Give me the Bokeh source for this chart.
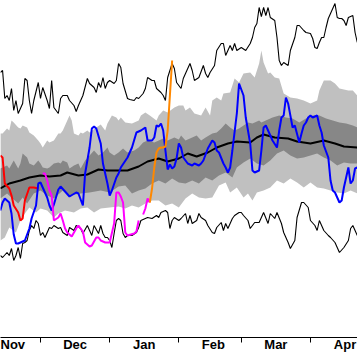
from bokeh.plotting import figure
from bokeh.models import Range1d, FixedTicker
from bokeh.embed import file_html
from bokeh.resources import INLINE

nan = float("nan")

# x = day of season, counted from 1 November (0 = Nov 1)
month_starts = [0, 30, 61, 92, 120, 151]
month_names = ["Nov", "Dec", "Jan", "Feb", "Mar", "Apr"]
label_pos = [m + 15.5 for m in month_starts]

# record maximum (thin black)
max_days = [12, 13, 14, 15, 16, 17, 18, 19, 20, 22, 23, 24, 25, 26, 27, 29, 30, 31, 33, 34,
            35, 36, 38, 39, 40, 42, 43, 45, 46, 47, 49, 51, 52, 54, 55, 56, 57, 58, 59, 60,
            61, 63, 64, 65, 66, 67, 69, 70, 72, 73, 74, 76, 77, 78, 80, 81, 82, 84, 85, 86,
            87, 89, 90, 91, 93, 94, 97, 98, 99, 101, 103, 104, 105, 106, 108, 109, 111, 112, 113, 115,
            116, 117, 118, 120, 122, 124, 125, 126, 127, 128, 129, 130, 131, 132, 133, 135, 136, 137, 138, 139,
            141, 142, 144, 145, 146, 148, 149, 151, 152, 153, 154, 155, 156, 157, 158, 159, 160, 162, 163, 164,
            165, 166, 167, 168, 170, 171, 172]
max_vals = [264, 266, 238, 241, 236, 248, 226, 236, 223, 233, 258, 256, 236, 223, 236, 254, 238, 249, 236, 228,
            256, 229, 223, 238, 241, 241, 236, 231, 225, 231, 241, 258, 253, 249, 244, 254, 249, 259, 248, 254,
            256, 253, 256, 273, 269, 253, 238, 237, 236, 239, 238, 243, 248, 259, 256, 256, 248, 244, 241, 236,
            259, 273, 268, 254, 248, 258, 273, 266, 256, 259, 271, 263, 259, 264, 271, 286, 293, 293, 281, 291,
            286, 293, 286, 289, 286, 293, 299, 309, 313, 329, 320, 329, 321, 329, 319, 316, 299, 276, 271, 274,
            271, 286, 299, 311, 311, 306, 304, 303, 298, 289, 288, 294, 299, 299, 309, 318, 323, 333, 319, 318,
            318, 316, 311, 319, 321, 304, 294]

# record minimum (thin black)
min_days = [12, 13, 15, 16, 17, 18, 19, 20, 21, 22, 23, 24, 25, 26, 27, 28, 29, 30, 31, 32,
            34, 35, 36, 38, 39, 40, 42, 43, 45, 46, 48, 49, 51, 52, 53, 54, 56, 57, 58, 59,
            60, 61, 62, 63, 64, 65, 66, 67, 68, 69, 71, 73, 74, 75, 77, 78, 80, 82, 83, 84,
            86, 87, 88, 89, 90, 92, 93, 95, 96, 97, 98, 100, 101, 102, 104, 105, 107, 108, 109, 111,
            112, 113, 114, 116, 117, 119, 120, 121, 123, 124, 126, 128, 129, 130, 132, 133, 135, 136, 138, 139,
            141, 142, 144, 145, 147, 148, 150, 151, 153, 154, 155, 157, 159, 160, 162, 163, 164, 166, 168, 169,
            170, 171, 172]
min_vals = [81, 79, 84, 81, 88, 76, 81, 89, 78, 93, 94, 96, 106, 111, 108, 116, 113, 101, 104, 99,
            109, 108, 111, 108, 109, 104, 101, 109, 106, 111, 108, 103, 111, 106, 101, 111, 103, 111, 103, 99,
            99, 96, 89, 103, 116, 118, 116, 103, 99, 101, 101, 104, 109, 116, 118, 119, 118, 121, 119, 124,
            126, 124, 108, 116, 119, 116, 118, 123, 113, 121, 113, 116, 123, 119, 116, 111, 104, 103, 109, 114,
            106, 113, 108, 118, 121, 124, 124, 121, 116, 108, 114, 114, 119, 124, 113, 123, 118, 124, 113, 104,
            94, 88, 96, 119, 134, 134, 129, 116, 111, 106, 116, 106, 101, 99, 94, 89, 84, 89, 96, 108,
            111, 106, 101]

# climatological mean (thick black)
mean_days = [12, 16, 21, 25, 30, 34, 39, 42, 47, 51, 56, 60, 65, 69, 74, 78, 83, 87, 92, 96,
             100, 105, 109, 114, 118, 124, 127, 130, 135, 141, 145, 151, 157, 162, 166, 172]
mean_vals = [148, 153, 156, 159, 161, 160, 161, 164, 161, 162, 167, 166, 166, 166, 170, 175, 178, 175, 178, 183,
             180, 184, 189, 193, 195, 194, 199, 202, 199, 198, 195, 193, 196, 193, 190, 189]

# outer band (light grey): upper and lower edges
outer_hi_days = [12, 13, 15, 16, 17, 18, 20, 21, 22, 24, 25, 27, 29, 30, 31, 33, 34, 36, 38, 39,
                 40, 42, 43, 44, 45, 47, 48, 49, 51, 52, 55, 57, 59, 60, 62, 64, 65, 66, 68, 71,
                 74, 75, 77, 79, 82, 83, 85, 87, 90, 92, 94, 95, 97, 99, 102, 104, 106, 107, 109, 111,
                 112, 115, 117, 119, 121, 124, 126, 128, 129, 130, 132, 133, 135, 137, 139, 142, 145, 148, 151, 154,
                 155, 157, 160, 162, 164, 168, 170, 172]
outer_hi_vals = [203, 203, 208, 206, 216, 214, 209, 208, 211, 209, 204, 201, 196, 193, 189, 196, 194, 196, 203, 203,
                 206, 216, 221, 216, 203, 201, 204, 203, 206, 204, 209, 212, 206, 213, 221, 219, 216, 219, 214, 213,
                 216, 221, 224, 221, 216, 221, 226, 224, 229, 231, 231, 226, 229, 223, 221, 229, 221, 236, 239, 236,
                 243, 244, 258, 254, 263, 264, 259, 273, 286, 274, 263, 264, 259, 258, 243, 239, 238, 236, 233, 236,
                 246, 256, 256, 253, 248, 246, 246, 241]
outer_lo_days = [12, 14, 16, 19, 21, 23, 25, 28, 30, 33, 36, 38, 41, 45, 48, 51, 54, 57, 61, 65,
                 68, 71, 74, 77, 80, 83, 86, 89, 92, 95, 98, 101, 104, 107, 110, 113, 115, 118, 121, 123,
                 125, 127, 130, 133, 136, 139, 142, 145, 148, 151, 154, 157, 160, 163, 166, 169, 172]
outer_lo_vals = [96, 99, 109, 104, 116, 123, 129, 124, 128, 126, 119, 123, 126, 124, 128, 129, 124, 128, 129, 130,
                 128, 131, 129, 133, 136, 136, 131, 133, 129, 138, 143, 139, 138, 139, 151, 154, 144, 149, 139, 143,
                 136, 144, 146, 149, 156, 153, 158, 154, 149, 154, 149, 148, 146, 144, 143, 146, 143]

# inner band (dark grey): upper and lower edges
inner_hi_days = [12, 13, 15, 16, 18, 20, 21, 22, 24, 25, 27, 29, 30, 31, 33, 34, 36, 38, 39, 40,
                 42, 43, 45, 47, 48, 50, 52, 54, 56, 58, 60, 61, 63, 65, 67, 69, 72, 74, 76, 78,
                 81, 83, 85, 87, 90, 92, 93, 95, 98, 100, 102, 104, 107, 109, 111, 113, 115, 117, 119, 121,
                 123, 125, 128, 129, 131, 134, 137, 140, 143, 146, 149, 152, 155, 158, 161, 164, 167, 170, 172]
inner_hi_vals = [168, 169, 171, 168, 176, 168, 173, 183, 179, 173, 171, 176, 173, 169, 168, 169, 173, 174, 173, 176,
                 174, 168, 171, 173, 168, 176, 181, 186, 181, 184, 189, 184, 181, 184, 188, 184, 186, 189, 194, 196,
                 194, 196, 198, 196, 199, 197, 201, 196, 199, 201, 196, 199, 203, 204, 208, 213, 209, 206, 208, 211,
                 214, 213, 216, 214, 216, 219, 221, 219, 218, 214, 218, 221, 221, 218, 216, 214, 213, 211, 209]
inner_lo_days = [12, 15, 20, 22, 24, 27, 30, 33, 36, 40, 43, 48, 52, 57, 61, 65, 68, 71, 74, 77,
                 80, 83, 86, 89, 92, 95, 98, 101, 104, 107, 110, 113, 116, 118, 121, 124, 127, 130, 133, 136,
                 139, 142, 145, 148, 151, 154, 157, 160, 163, 166, 169, 172]
inner_lo_vals = [138, 143, 133, 139, 133, 143, 146, 141, 138, 146, 141, 143, 144, 146, 144, 150, 151, 143, 146, 148,
                 153, 156, 153, 158, 154, 153, 156, 153, 159, 156, 161, 164, 159, 169, 174, 178, 173, 171, 176, 183,
                 186, 181, 178, 179, 181, 183, 179, 176, 171, 174, 173, 173]

# individual seasons
red_days = [12, 13, 14, 16, 17, 18, 20, 21, 22, 23, 25, 27, 29]
red_vals = [181, 179, 153, 148, 141, 131, 124, 116, 118, 136, 149, 149, 148]

blue_days = [12, 13, 14, 16, 17, 18, 19, 20, 22, 23, 25, 26, 28, 29, 30, 31, 33, 34, 35, 36,
             38, 39, 41, 43, 46, 47, 49, 50, 52, 53, 54, 55, 57, 58, 60, 61, 62, 64, 65, 66,
             69, 71, 73, 75, 77, 78, 80, 81, 82, 83, 84, 85, 86, 87, 88, 89, 90, 91, 92, 93,
             94, 96, 98, 99, 101, 102, 103, 105, 107, 108, 109, 110, 112, 113, 114, 115, 116, 118, 119, 121,
             122, 124, 125, 126, 128, 129, 130, 131, 133, 134, 136, 137, 138, 139, 140, 141, 142, 143, 144, 146,
             147, 148, 149, 150, 151, 152, 154, 155, 156, 157, 159, 160, 161, 162, 164, 165, 166, 168, 169, 170,
             171, 172]
blue_vals = [126, 134, 138, 134, 123, 102, 93, 93, 95, 96, 108, 118, 131, 153, 154, 149, 139, 131, 126, 132,
             147, 150, 145, 140, 144, 143, 131, 163, 189, 208, 210, 208, 193, 173, 153, 141, 146, 159, 163, 169,
             179, 189, 204, 206, 209, 196, 196, 199, 211, 210, 213, 206, 186, 167, 172, 168, 170, 178, 193, 189,
             179, 173, 171, 173, 171, 173, 176, 188, 196, 194, 186, 184, 173, 169, 164, 169, 186, 223, 253, 241,
             219, 193, 166, 164, 166, 186, 209, 211, 201, 196, 189, 206, 219, 221, 239, 233, 221, 209, 211, 194,
             203, 211, 214, 219, 221, 219, 221, 211, 204, 191, 179, 156, 146, 144, 134, 136, 149, 169, 153, 156,
             168, 169]

magenta_days = [31, 32, 33, 34, 35, 36, 38, 39, 40, 41, 42, 43, 44, 46, 47, 49, 50, 52, 53, 55,
                56, 57, 59, 60, 61, 63, 64, 65, 66, 67, 68, 69, 72, 73, 74, 75, 76, 77, 78, 79]
magenta_vals = [163, 163, 156, 146, 141, 116, 119, 123, 116, 108, 104, 102, 100, 108, 111, 105, 94, 90, 91, 99,
                99, 96, 94, 94, 94, 113, 144, 144, 140, 134, 104, 101, 103, 105, 116, nan, 122, 128, 138, 134]

orange_days = [79, 80, 81, 82, 83, 84, 85, 86, 87, 88, 89]
orange_vals = [134, 148, 169, 184, 188, 189, 189, 190, 206, 241, 276]

LIGHT = "#c0c0c0"
DARK = "#878787"

p = figure(width=357, height=356, x_range=Range1d(12.07, 172.09), y_range=Range1d(-1, 336),
           output_backend="svg", toolbar_location=None, y_axis_location=None,
           min_border_left=0, min_border_right=0, min_border_top=0, min_border_bottom=19,
           outline_line_color=None, background_fill_color="white", border_fill_color="white")
p.grid.visible = False

p.patch(outer_hi_days + outer_lo_days[::-1], outer_hi_vals + outer_lo_vals[::-1],
        fill_color=LIGHT, line_color=None)
p.patch(inner_hi_days + inner_lo_days[::-1], inner_hi_vals + inner_lo_vals[::-1],
        fill_color=DARK, line_color=None)

p.line(max_days, max_vals, line_color="black", line_width=1.1)
p.line(min_days, min_vals, line_color="black", line_width=1.1)
p.line(mean_days, mean_vals, line_color="black", line_width=2)

p.line(red_days, red_vals, line_color="#ff0000", line_width=2)
p.line(blue_days, blue_vals, line_color="#0000ff", line_width=2)
p.line(magenta_days, magenta_vals, line_color="#ff00ff", line_width=2)
p.line(orange_days, orange_vals, line_color="#ff8800", line_width=2)

ax = p.xaxis[0]
ax.ticker = FixedTicker(ticks=label_pos, minor_ticks=month_starts)
ax.major_label_overrides = {float(t): n for t, n in zip(label_pos, month_names)}
ax.major_tick_out = 0
ax.major_tick_in = 0
ax.minor_tick_out = 5
ax.minor_tick_in = 0
ax.minor_tick_line_color = "black"
ax.axis_line_color = "black"
ax.major_label_standoff = -6
ax.major_label_text_font = "Liberation Sans"
ax.major_label_text_font_size = "13px"
ax.major_label_text_font_style = "bold"
ax.major_label_text_color = "black"

open("out.html", "w").write(file_html(p, INLINE))
